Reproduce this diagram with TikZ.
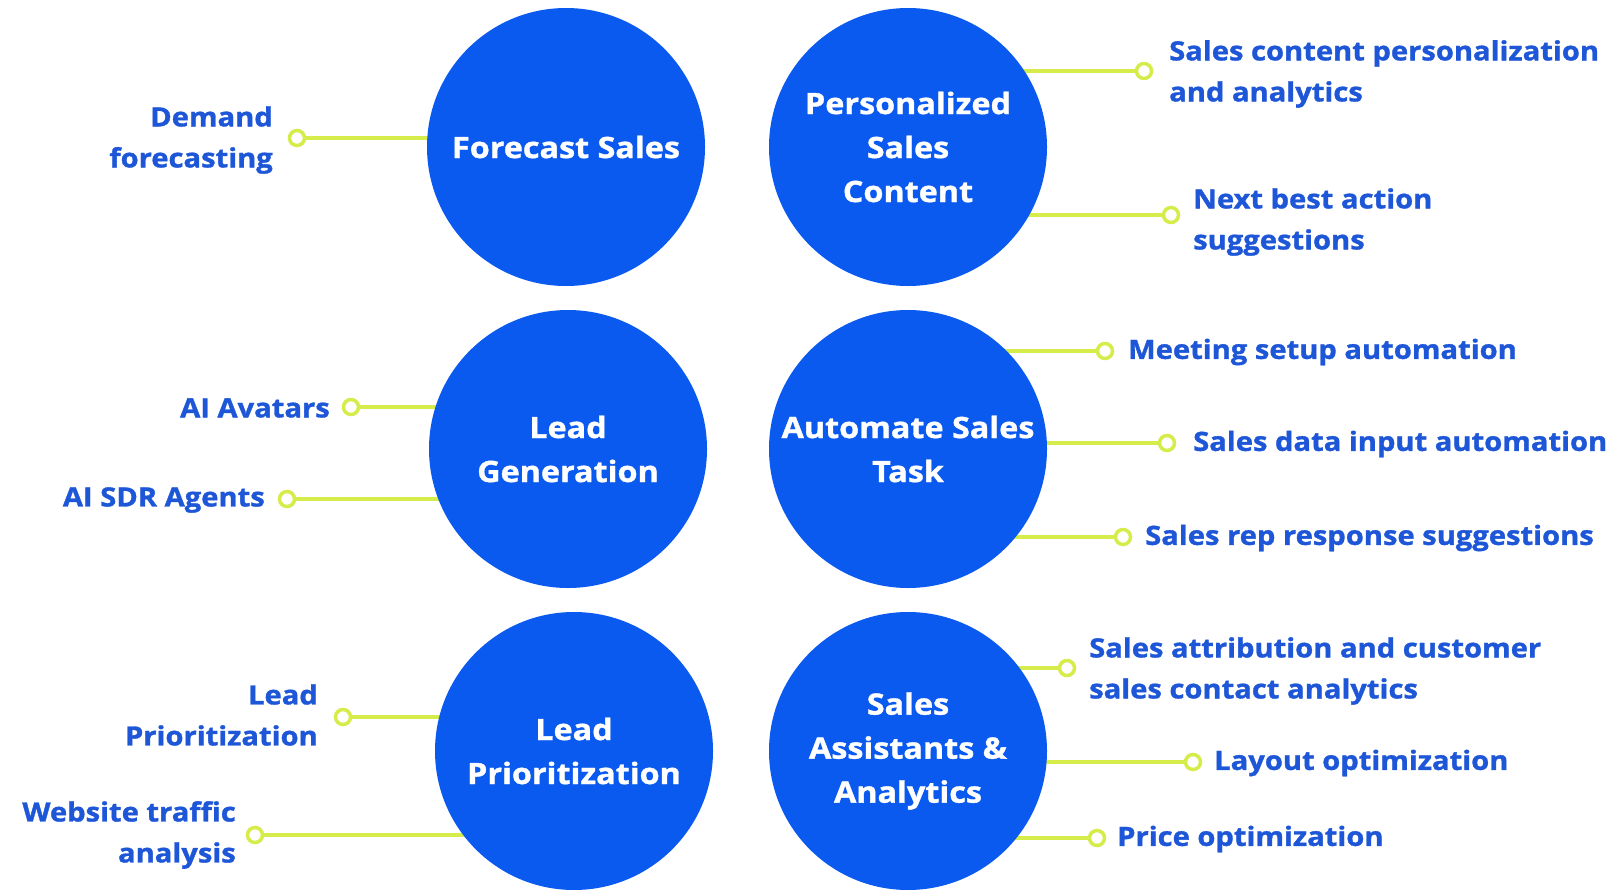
\documentclass[tikz,border=0pt]{standalone}
\usepackage{fontspec}
\setmainfont{Open Sans}[FakeStretch=1.1, BoldFeatures={FakeBold=1.2}]
\usetikzlibrary{backgrounds}
\definecolor{hubblue}{HTML}{0A5AF0}
\definecolor{labelblue}{HTML}{1E56D8}
\definecolor{lime}{HTML}{D6EC4A}

\begin{document}
\begin{tikzpicture}[x=1pt,y=-1pt,
  hub/.style={circle, fill=hubblue, minimum size=278pt, inner sep=0pt,
    text=white, font=\fontsize{29.4}{44}\selectfont\bfseries, align=center},
  knob/.style={circle, draw=lime, line width=3.5pt, fill=white,
    minimum size=15pt, inner sep=0pt},
  leaf/.style={text=labelblue, font=\fontsize{26.5}{41}\selectfont\bfseries, inner sep=0pt},
  leafL/.style={leaf, align=left, anchor=west},
  leafR/.style={leaf, align=right, anchor=east},
  link/.style={draw=lime, line width=4pt}]

\useasboundingbox (0,0) rectangle (1619,889);

% central topics
\node[hub] (fc)  at (566,147) {Forecast Sales};
\node[hub] (psc) at (908,147) {Personalized\\Sales\\Content};
\node[hub] (lg)  at (568,449) {Lead\\Generation};
\node[hub] (ast) at (908,449) {Automate Sales\\Task};
\node[hub] (lp)  at (574,751) {Lead\\Prioritization};
\node[hub] (saa) at (908,751) {Sales\\Assistants \&\\Analytics};

% end rings of the branches
\node[knob] (kdf)  at (297,138)  {};
\node[knob] (kscp) at (1144,71)  {};
\node[knob] (knba) at (1171,215) {};
\node[knob] (kav)  at (351,407)  {};
\node[knob] (ksdr) at (287,499)  {};
\node[knob] (kmsa) at (1105,351) {};
\node[knob] (ksdi) at (1167,443) {};
\node[knob] (ksrr) at (1123,537) {};
\node[knob] (klpz) at (343,717)  {};
\node[knob] (kwta) at (255,835)  {};
\node[knob] (ksac) at (1067,668) {};
\node[knob] (klo)  at (1193,762) {};
\node[knob] (kpo)  at (1097,838) {};

% branch labels
\node[leafR] (tdf)  at (273,140)  {Demand\\forecasting};
\node[leafL] (tscp) at (1169,74)  {Sales content personalization\\and analytics};
\node[leafL] (tnba) at (1193,222) {Next best action\\suggestions};
\node[leafR] (tav)  at (330,408)  {AI Avatars};
\node[leafR] (tsdr) at (265,500)  {AI SDR Agents};
\node[leafL] (tmsa) at (1128,352) {Meeting setup automation};
\node[leafL] (tsdi) at (1193,444) {Sales data input automation};
\node[leafL] (tsrr) at (1145,538) {Sales rep response suggestions};
\node[leafR] (tlpz) at (318,715)  {Lead\\Prioritization};
\node[leafR] (twta) at (236,835)  {Website traffic\\analysis};
\node[leafL] (tsac) at (1089,671) {Sales attribution and customer\\sales contact analytics};
\node[leafL] (tlo)  at (1214,763) {Layout optimization};
\node[leafL] (tpo)  at (1117,839) {Price optimization};

% white page, then branch lines tucked under the circles and rings
\begin{scope}[on background layer]
  \fill[white] (0,0) rectangle (1619,889);
  \draw[link] (kdf.center)  -- (fc.center  |- kdf);
  \draw[link] (kscp.center) -- (psc.center |- kscp);
  \draw[link] (knba.center) -- (psc.center |- knba);
  \draw[link] (kav.center)  -- (lg.center  |- kav);
  \draw[link] (ksdr.center) -- (lg.center  |- ksdr);
  \draw[link] (kmsa.center) -- (ast.center |- kmsa);
  \draw[link] (ksdi.center) -- (ast.center |- ksdi);
  \draw[link] (ksrr.center) -- (ast.center |- ksrr);
  \draw[link] (klpz.center) -- (lp.center  |- klpz);
  \draw[link] (kwta.center) -- (lp.center  |- kwta);
  \draw[link] (ksac.center) -- (saa.center |- ksac);
  \draw[link] (klo.center)  -- (saa.center |- klo);
  \draw[link] (kpo.center)  -- (saa.center |- kpo);
\end{scope}
\end{tikzpicture}
\end{document}
